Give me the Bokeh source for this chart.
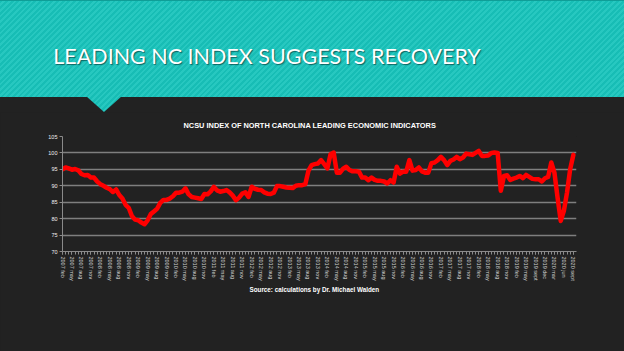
from bokeh.plotting import figure
from bokeh.layouts import column
from bokeh.models import Range1d, FixedTicker, Div, Title
from bokeh.embed import file_html
from bokeh.resources import INLINE

# ---------------- data ----------------
index_values = [
    95.0, 95.6, 95.3, 94.9, 95.1, 94.7, 93.6, 93.2, 93.3, 92.5,
    92.5, 91.3, 90.5, 90.0, 89.4, 89.0, 88.1, 88.9, 87.2, 86.1,
    84.2, 83.3, 80.8, 79.7, 79.5, 78.8, 78.3, 79.5, 81.4, 82.2,
    83.0, 84.8, 85.7, 85.7, 86.1, 86.8, 87.9, 87.9, 88.2, 89.2,
    87.4, 86.6, 86.4, 86.2, 86.0, 87.5, 87.4, 88.3, 89.7, 88.6,
    88.2, 88.4, 88.7, 88.0, 87.0, 85.6, 86.4, 87.6, 88.0, 86.6,
    89.7, 89.1, 88.8, 88.7, 88.0, 87.6, 87.5, 87.9, 89.9, 89.9,
    89.7, 89.5, 89.4, 89.3, 90.0, 90.2, 90.2, 90.5, 94.6, 96.3,
    96.6, 96.8, 97.8, 96.6, 95.3, 99.6, 100.1, 94.0, 94.0, 95.2,
    95.8, 94.8, 94.4, 94.4, 94.3, 92.5, 92.5, 91.7, 92.5, 91.8,
    91.5, 91.5, 91.3, 90.7, 91.7, 91.0, 95.8, 93.7, 94.3, 94.3,
    97.8, 94.6, 94.8, 95.6, 94.4, 94.0, 94.0, 96.9, 97.1, 97.8,
    98.8, 97.8, 96.3, 97.6, 98.0, 98.8, 98.1, 98.6, 99.8, 99.6,
    99.4, 100.0, 100.6, 99.1, 99.1, 99.2, 100.0, 100.1, 100.0, 88.5,
    93.0, 93.2, 91.8, 92.2, 92.5, 93.0, 92.3, 93.3, 92.7, 92.1,
    92.0, 92.0, 91.3, 92.3, 92.7, 97.1, 94.0, 86.4, 79.3, 82.4,
    88.0, 95.1, 99.4,
]
months = list(range(len(index_values)))

tick_labels = [
    "2007 feb", "2007 may", "2007 aug", "2007 nov",
    "2008 feb", "2008 may", "2008 aug", "2008 nov",
    "2009 feb", "2009 may", "2009 aug", "2009 nov",
    "2010 feb", "2010 may", "2010 aug", "2010 nov",
    "2011 feb", "2011 may", "2011 aug", "2011 nov",
    "2012 feb", "2012 may", "2012 aug", "2012 nov",
    "2013 feb", "2013 may", "2013 aug", "2013 nov",
    "2014 feb", "2014 may", "2014 aug", "2014 nov",
    "2015 feb", "2015 may", "2015 aug", "2015 nov",
    "2016 feb", "2016 may", "2016 aug", "2016 nov",
    "2017 feb", "2017 may", "2017 aug", "2017 nov",
    "2018 feb", "2018 may", "2018 aug", "2018 nov",
    "2019 feb", "2019 may", "2019 sept", "2019 dec",
    "2020 mar", "2020 jun", "2020 sept",
]
tick_positions = [3 * k for k in range(len(tick_labels))]
y_ticks = [70, 75, 80, 85, 90, 95, 100, 105]

main_title = "LEADING NC INDEX SUGGESTS RECOVERY"
chart_title = "NCSU INDEX OF NORTH CAROLINA LEADING ECONOMIC INDICATORS"
source_text = "Source: calculations by Dr. Michael Walden"

# ---------------- style ----------------
BG = "#222222"
TEAL = "#17bdb5"
STRIPE = "#27c8c0"
W, H = 624, 351
FONT = "Liberation Sans"
BANNER_H = 112
FRAME_TOP = 136      # page y of the 105 line
FRAME_BOTTOM = 251   # page y of the 70 line

stripes = (f"repeating-linear-gradient(135deg, {TEAL} 0px, {TEAL} 2px, "
           f"{STRIPE} 2px, {STRIPE} 4px)")
banner_html = f"""
<div style="position:relative;width:{W}px;height:{BANNER_H}px;background:{BG};overflow:hidden;">
  <div style="position:absolute;left:0;top:0;width:{W}px;height:97px;background:{stripes};
              border-top:1.5px solid #0f9e97;box-sizing:border-box;"></div>
  <div style="position:absolute;left:86px;top:96px;width:36px;height:16px;background:{stripes};
              clip-path:polygon(0 0,100% 0,50% 100%);"></div>
  <div style="position:absolute;left:0;top:40px;width:534px;text-align:center;
              font-family:Lato,'Open Sans',sans-serif;font-size:21.5px;line-height:32px;color:#ffffff;
              text-shadow:1px 1px 1px rgba(0,40,40,0.6);white-space:nowrap;">{main_title}</div>
</div>
"""
banner = Div(text=banner_html, width=W, height=BANNER_H, margin=0,
             styles={"background-color": BG})

# ---------------- chart ----------------
chart_h = H - BANNER_H
p = figure(width=W, height=chart_h, x_range=Range1d(0, 163), y_range=Range1d(70, 105),
           output_backend="svg", toolbar_location=None,
           min_border_left=62, min_border_right=48,
           min_border_top=FRAME_TOP - BANNER_H, min_border_bottom=H - FRAME_BOTTOM,
           background_fill_color=BG, border_fill_color=BG, outline_line_color=None,
           margin=0)
p.title.text = chart_title
p.title.align = "left"
p.title.offset = 121
p.title.text_font = FONT
p.title.text_font_size = "7.4px"
p.title.text_font_style = "bold"
p.title.text_color = "white"
p.title.standoff = 13

p.add_layout(Title(text=source_text, align="left", offset=187, text_font=FONT,
                   text_font_size="6.3px", text_font_style="bold", text_color="white",
                   standoff=0), "below")

p.xgrid.visible = False
p.ygrid.grid_line_color = "#7f7f7f"
p.ygrid.grid_line_width = 1.5
p.yaxis.ticker = FixedTicker(ticks=y_ticks)
p.xaxis.ticker = FixedTicker(ticks=tick_positions, minor_ticks=months)
p.xaxis.major_label_overrides = {pos: lab for pos, lab in zip(tick_positions, tick_labels)}
p.xaxis.major_label_orientation = "vertical"

for ax in (p.xaxis, p.yaxis):
    ax.axis_line_color = "#8a8a8a"
    ax.axis_line_width = 1
    ax.major_tick_line_color = "#8a8a8a"
    ax.minor_tick_line_color = "#8a8a8a"
    ax.major_tick_in = 0
    ax.minor_tick_in = 0
    ax.major_tick_out = 3
    ax.minor_tick_out = 3
    ax.major_label_text_font = FONT
    ax.major_label_text_font_size = "5.5px"
    ax.major_label_standoff = 2
p.yaxis.minor_tick_line_color = None
p.yaxis.major_label_text_color = "#f0f0f0"
p.xaxis.major_label_text_color = "#d0d0d0"

p.line(months, index_values, line_color="#ff0000", line_width=4.5,
       line_join="round", line_cap="round")

layout = column(banner, p, spacing=0, styles={"background-color": BG})
open("out.html", "w").write(file_html(layout, INLINE))
